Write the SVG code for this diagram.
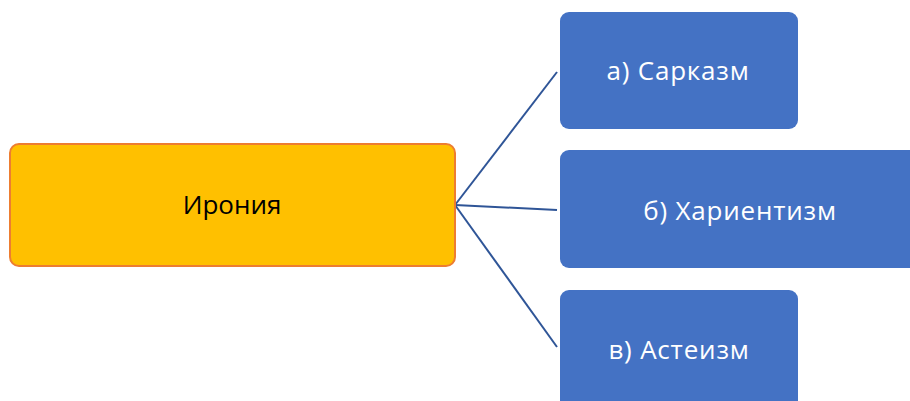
<svg xmlns="http://www.w3.org/2000/svg" width="910" height="401" viewBox="0 0 910 401">
<style>
.t{font-family:"Open Sans","Liberation Sans",sans-serif;font-size:26px;text-anchor:middle}
.blue{fill:#4472C4}
.w{fill:#FFFFFF}
.c{stroke:#2F5597;stroke-width:2;fill:none}
</style>
<rect width="910" height="401" fill="#FFFFFF"/>
<g id="connectors">
<line class="c" x1="455" y1="205" x2="557" y2="72"/>
<line class="c" x1="455" y1="205" x2="557" y2="210"/>
<line class="c" x1="455" y1="205" x2="557" y2="347"/>
</g>
<g id="ironia">
<rect x="10" y="144" width="445" height="122" rx="9" fill="#FFC000" stroke="#ED7D31" stroke-width="2"/>
<text class="t" x="232" y="214" fill="#000000">Ирония</text>
</g>
<g id="sarkazm">
<rect class="blue" x="560" y="12" width="238" height="117" rx="9"/>
<text class="t w" x="678" y="80" letter-spacing="0.8">а) Сарказм</text>
</g>
<g id="harientizm">
<rect class="blue" x="560" y="150" width="370" height="118" rx="9"/>
<text class="t w" x="740" y="220" letter-spacing="0.8">б) Хариентизм</text>
</g>
<g id="asteizm">
<rect class="blue" x="560" y="290" width="238" height="130" rx="9"/>
<text class="t w" x="679" y="359" letter-spacing="0.8">в) Астеизм</text>
</g>
</svg>
